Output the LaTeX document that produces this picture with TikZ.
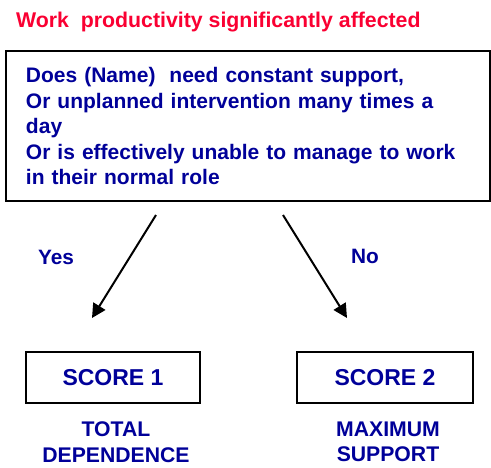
\documentclass[tikz,border=0pt]{standalone}
\usepackage{fontspec}
\setmainfont{Liberation Sans}
\usepackage{xcolor}
\usetikzlibrary{arrows.meta}
\definecolor{navy}{RGB}{0,0,153}
\definecolor{titlered}{RGB}{250,0,50}
\tikzset{
  box/.style={draw,line width=2pt,inner sep=0pt},
  flow/.style={line width=2pt,-{Triangle[length=14pt,width=14pt]}},
  answer/.style={navy,font=\fontsize{20.8}{25}\selectfont\bfseries}
}
\newcommand{\ScoreBox}[5]{%
  \node[box,minimum width=#3,minimum height=51pt,text=navy,draw=black,
        font=\fontsize{23}{27}\selectfont\bfseries] (#1) at (#2,377.5) {SCORE #4};
  \node[navy,align=center,inner sep=0pt,
        font=\fontsize{21.2}{25.5}\selectfont\bfseries] (#1text) at (#2+3,442) {#5};
}

\begin{document}
\begin{tikzpicture}[x=1pt,y=-1pt]
    \useasboundingbox (0,0) rectangle (491,467);

    \node[titlered,anchor=base west,inner sep=0pt,
          font=\fontsize{21.3}{25}\selectfont\bfseries] (title) at (16,27)
      {Work\ \ productivity significantly affected};

    \node[box,minimum width=484pt,minimum height=150pt,text width=444pt,
          align=left,text=navy,font=\fontsize{21}{25.5}\selectfont\bfseries] (question) at (248,126)
      {Does (Name)\ \ need constant support,\\
       Or unplanned intervention many times a\\
       day\\
       Or is effectively unable to manage to work\\
       in their normal role};

    \ScoreBox{scoreone}{113}{174pt}{1}{TOTAL\\DEPENDENCE}
    \ScoreBox{scoretwo}{385}{176pt}{2}{MAXIMUM\\SUPPORT}

    \coordinate (yesfrom) at (156,215);
    \coordinate (yesto) at (92,318);
    \coordinate (nofrom) at (283,215);
    \coordinate (noto) at (347,318);
    \draw[flow] (yesfrom) -- (yesto);
    \draw[flow] (nofrom) -- (noto);

    \node[answer] (yes) at (56,257) {Yes};
    \node[answer] (no) at (365,256) {No};
\end{tikzpicture}
\end{document}
